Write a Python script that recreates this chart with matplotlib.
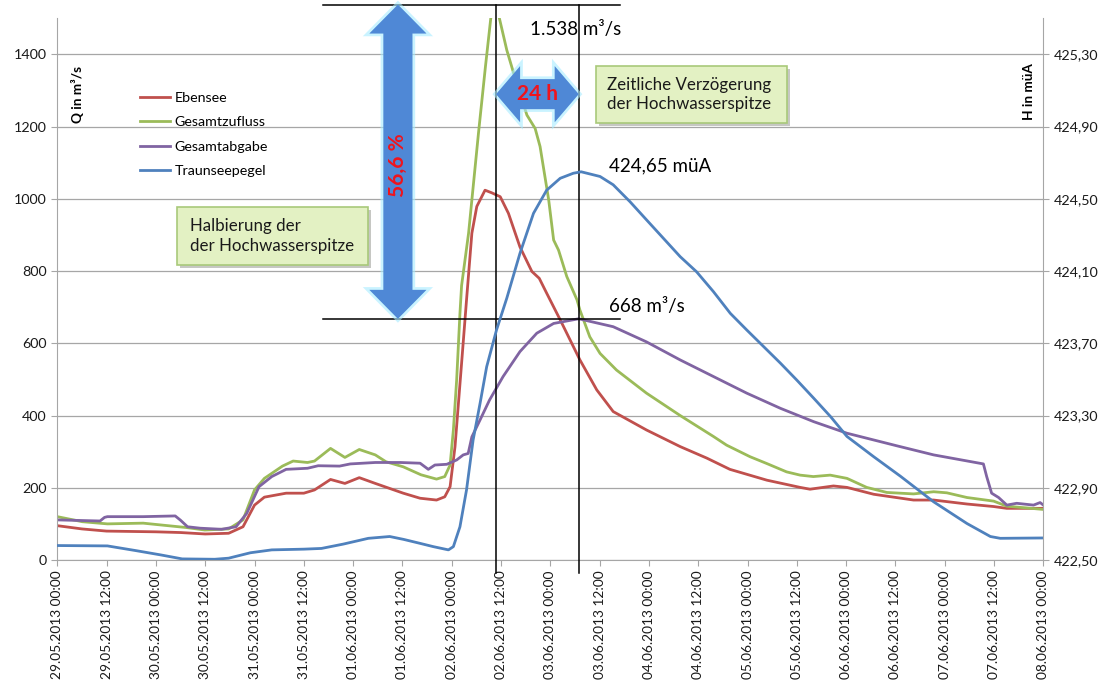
import pandas as pd
import matplotlib
matplotlib.use('Agg')
import matplotlib.pyplot as plt
import matplotlib.dates as mdates
import matplotlib.patheffects as pe
import matplotlib.transforms as mtransforms
from matplotlib.patches import Polygon, FancyBboxPatch
from matplotlib.ticker import FuncFormatter

plt.rcParams['font.family'] = ['Lato', 'DejaVu Sans']

start = pd.Timestamp('2013-05-29 00:00')
end = pd.Timestamp('2013-06-08 00:00')

# Stunden ab 29.05.2013 00:00, Abfluss in m³/s
ebensee_h = [0, 6, 12, 24, 30, 36, 41.7, 45.2, 48, 50.4, 55.7, 60, 62.6, 66.5, 70, 73.5, 77.4,
             84.2, 88.3, 92.3, 94.3, 95.6, 96.8, 98.4, 99.6, 100.9, 102.1, 104.1, 105.7, 107.8,
             109.8, 112.6, 115.5, 117.3, 119.1, 122.4, 127.2, 131.3, 135.3, 143.4, 151.6, 158.1,
             163.7, 172.7, 180.8, 183.2, 188.9, 192.2, 198.7, 208.4, 213.3, 221.4, 227.9, 231.1, 240]
ebensee_q = [95, 86, 80, 78, 76, 72, 74, 92, 152, 174, 185, 185, 194, 223, 212, 228, 212,
             185, 171, 166, 175, 203, 314, 545, 720, 905, 979, 1024, 1017, 1006,
             960, 867, 799, 780, 739, 665, 554, 471, 411, 360, 314, 282,
             251, 221, 201, 196, 205, 201, 182, 166, 166, 155, 148, 143, 143]

zufluss_h = [0, 6.1, 12.2, 20.9, 25.2, 31.3, 35.9, 41.7, 45.2, 48, 50.4, 54.8, 57.4, 60.9, 62.6,
             66.5, 70, 73.5, 77.4, 80, 84.2, 88.5, 92.3, 94.3, 95.6, 96.4, 97.2, 98, 98.4, 100.1,
             102.5, 104.2, 105.5, 106.6, 107.6, 109.4, 111.8, 114.3, 116.3, 117.5, 119.6, 120.8,
             122, 124, 126.5, 127.2, 129.6, 132.1, 136.1, 143.4, 151.6, 159.7, 162.9, 168.6, 172.7,
             177.5, 180.8, 184, 188.1, 192.2, 197, 201.9, 208.4, 213.3, 216.5, 221.4, 227.9, 231.1,
             240]
zufluss_q = [120, 106, 100, 102, 97, 90, 83, 86, 111, 194, 226, 260, 274, 270, 274,
             309, 284, 306, 291, 272, 258, 236, 224, 231, 263, 360, 499, 683, 760, 905,
             1181, 1366, 1500, 1538, 1500, 1412, 1320, 1232, 1195, 1145, 997, 886,
             858, 785, 720, 692, 618, 572, 526, 462, 400, 342, 318, 286, 267,
             244, 235, 231, 235, 226, 201, 187, 183, 189, 186, 173, 163, 149,
             140]

abgabe_h = [0, 10.4, 11.5, 12.2, 20.9, 28.7, 30, 31.7, 34.8, 40, 43.5, 46.1, 49.1, 52.2, 55.7,
            60.9, 63.5, 68.7, 71.3, 77.4, 83.5, 88.3, 90.3, 91.9, 94.8, 97.2, 98.8, 100, 100.9,
            102.9, 105.2, 108.5, 112.6, 116.7, 120.8, 126.9, 135.3, 143.4, 151.6, 159.7, 167.8,
            176, 184.1, 192.2, 204.4, 213.3, 225.4, 226.2, 227.4, 229.1, 231.1, 233.5, 237.6,
            239.2, 240]
abgabe_q = [111, 108, 118, 120, 120, 122, 110, 92, 88, 85, 92, 129, 203, 231, 251,
            254, 261, 260, 266, 270, 270, 268, 251, 263, 265, 277, 291, 295, 341,
            388, 443, 508, 577, 628, 655, 668, 646, 604, 554, 508, 462,
            420, 383, 351, 316, 291, 266, 231, 185, 173, 152, 157, 152,
            159, 152]

# Seepegel in m ü. A.
pegel_h = [0, 12.2, 19.1, 25.2, 30.4, 38.3, 41.7, 47, 52.2, 60, 64.3, 69.6, 75.7, 80.9, 84.3,
           88.3, 91.5, 95.2, 96.4, 98, 99.6, 101.2, 102.9, 104.5, 106.9, 109.4, 112.6, 115.9,
           119.1, 122.4, 125.6, 127.5, 132.1, 135.3, 139.4, 143.4, 147.5, 151.6, 155.6, 159.7,
           163.8, 167.8, 171.9, 176, 180, 184.1, 188.2, 192.2, 198.7, 205.2, 213.3, 221.4, 227.1,
           229.5, 240]
pegel_m = [422.58, 422.578, 422.552, 422.528, 422.506, 422.504, 422.51, 422.54, 422.556, 422.56,
           422.564, 422.588, 422.62, 422.63, 422.614, 422.592, 422.574, 422.556, 422.574, 422.684,
           422.888, 423.164, 423.368, 423.57, 423.774, 423.95, 424.198, 424.42, 424.548, 424.614,
           424.642, 424.65, 424.624, 424.578, 424.484, 424.384, 424.282, 424.18, 424.096, 423.986,
           423.866, 423.774, 423.682, 423.59, 423.496, 423.396, 423.294, 423.184, 423.072, 422.964,
           422.822, 422.702, 422.63, 422.62, 422.622]

peak_in = 1538
peak_out = 668
peak_level = 424.65
lag_from_h = 106.8
lag_to_h = 126.9
halving_h = 82.9
marker_span_h = (64.7, 136.9)


def to_time(hours):
    return start + pd.to_timedelta(hours, unit='h')


fig = plt.figure(figsize=(11.04, 6.81), dpi=100)
ax = fig.add_axes([0.0519, 0.1777, 0.8932, 0.7954])
ax2 = ax.twinx()

lw = 2.0
l1, = ax.plot(to_time(ebensee_h), ebensee_q, color='#c0504d', lw=lw, label='Ebensee')
l2, = ax.plot(to_time(zufluss_h), zufluss_q, color='#9bbb59', lw=lw, label='Gesamtzufluss')
l3, = ax.plot(to_time(abgabe_h), abgabe_q, color='#8064a2', lw=lw, label='Gesamtabgabe')
l4, = ax2.plot(to_time(pegel_h), pegel_m, color='#4f81bd', lw=lw, label='Traunseepegel')

ax.set_xlim(start, end)
ax.set_ylim(0, 1500)
ax2.set_ylim(422.5, 425.5)

ax.set_yticks(range(0, 1401, 200))
ax2.set_yticks([422.5 + 0.4 * i for i in range(8)])
ax2.yaxis.set_major_formatter(FuncFormatter(lambda v, p: f'{v:.2f}'.replace('.', ',')))

ax.xaxis.set_major_locator(mdates.HourLocator(byhour=[0, 12]))
ax.xaxis.set_major_formatter(mdates.DateFormatter('%d.%m.%Y %H:%M'))
for lab in ax.get_xticklabels():
    lab.set_rotation(90)

grid_col = '#a6a6a6'
ax.yaxis.grid(True, color=grid_col, lw=0.9)
ax.set_axisbelow(True)
for a in (ax, ax2):
    a.spines['top'].set_visible(False)
    for s in ('left', 'right', 'bottom'):
        a.spines[s].set_color(grid_col)
ax.spines['right'].set_visible(False)
ax2.spines['left'].set_visible(False)
ax2.spines['bottom'].set_visible(False)

ax.tick_params(axis='y', colors=grid_col, labelcolor='#1a1a1a', labelsize=10.3, length=4)
ax.tick_params(axis='x', colors=grid_col, labelcolor='#1a1a1a', labelsize=9.9, length=4)
ax2.tick_params(axis='y', colors=grid_col, labelcolor='#1a1a1a', labelsize=10.3, length=4)

# Achsentitel innerhalb der Zeichenfläche
ax.text(0.0205, 0.86, 'Q in m³/s', transform=ax.transAxes, rotation=90, ha='center', va='center',
        fontsize=9.8, fontweight='bold')
ax.text(0.9855, 0.864, 'H in müA', transform=ax.transAxes, rotation=90, ha='center', va='center',
        fontsize=9.8, fontweight='bold')

ax2.legend([l1, l2, l3, l4], [l.get_label() for l in (l1, l2, l3, l4)], loc='upper left',
           bbox_to_anchor=(0.0839, 0.8636), frameon=False, fontsize=10.3, handlelength=2.1,
           handletextpad=0.3, labelspacing=0.85, borderpad=0, borderaxespad=0)

# Markierungslinien für Spitzen und Verzögerung
t0, t1 = to_time(list(marker_span_h))
ax.plot([t0, t1], [peak_in, peak_in], color='k', lw=1.1, clip_on=False, zorder=6)
ax.plot([t0, t1], [peak_out, peak_out], color='k', lw=1.1, clip_on=False, zorder=6)
for h in (lag_from_h, lag_to_h):
    t = to_time([h])[0]
    ax.plot([t, t], [-36, peak_in], color='k', lw=1.1, clip_on=False, zorder=6)

trans = mtransforms.blended_transform_factory(ax.transAxes, ax.transData)
arrow_col = '#4f88d6'
glow = [pe.withStroke(linewidth=4, foreground='#a8ecff', alpha=0.6)]

# senkrechter Doppelpfeil (Halbierung)
xc = halving_h / 240
hw, sw, hl = 0.0578 / 2, 0.0294 / 2, 80
y0, y1 = peak_out, peak_in
vert = [(xc, y1), (xc + hw, y1 - hl), (xc + sw, y1 - hl), (xc + sw, y0 + hl), (xc + hw, y0 + hl),
        (xc, y0), (xc - hw, y0 + hl), (xc - sw, y0 + hl), (xc - sw, y1 - hl), (xc - hw, y1 - hl)]
ax.add_patch(Polygon(vert, closed=True, transform=trans, facecolor=arrow_col, edgecolor='none',
                     clip_on=False, zorder=7, path_effects=glow))
ax.text(xc, (y0 + y1) / 2 - 9, '56,6 %', transform=trans, rotation=90, ha='center', va='center',
        color='#f0141c', fontsize=15, fontweight='bold', zorder=8)

# waagrechter Doppelpfeil (Verzögerung)
xa, xb = lag_from_h / 240, lag_to_h / 240
yc, hh, sh, hx = 1290, 155 / 2, 83 / 2, 0.0243
horiz = [(xa, yc), (xa + hx, yc + hh), (xa + hx, yc + sh), (xb - hx, yc + sh), (xb - hx, yc + hh),
         (xb, yc), (xb - hx, yc - hh), (xb - hx, yc - sh), (xa + hx, yc - sh), (xa + hx, yc - hh)]
ax.add_patch(Polygon(horiz, closed=True, transform=trans, facecolor=arrow_col, edgecolor='none',
                     clip_on=False, zorder=7, path_effects=glow))
ax.text((xa + xb) / 2, yc, '24 h', transform=trans, ha='center', va='center',
        color='#f0141c', fontsize=15, fontweight='bold', zorder=8)

# Textfelder
shadow = [pe.SimplePatchShadow(offset=(2, -2), alpha=0.3), pe.Normal()]
for (bx, by, bw, bh), txt, tx in [((0.1214, 0.5446, 0.1936, 0.1071),
                                   'Halbierung der\nder Hochwasserspitze', 0.1346),
                                  ((0.5463, 0.8067, 0.1937, 0.1053),
                                   'Zeitliche Verzögerung\nder Hochwasserspitze', 0.5575)]:
    box = FancyBboxPatch((bx, by), bw, bh, boxstyle='square,pad=0', transform=ax.transAxes,
                         facecolor='#e3f1c3', edgecolor='#a9c97a', lw=1.2, zorder=7,
                         path_effects=shadow)
    ax.add_patch(box)
    ax.text(tx, by + bh / 2, txt, transform=ax.transAxes, ha='left', va='center', fontsize=12.2,
            linespacing=1.25, color='#1a1a1a', zorder=8)

# Wertbeschriftungen
ax.text(to_time([115.1])[0], 1468, f'{peak_in / 1000:.3f} m³/s', ha='left', va='center',
        fontsize=13.5, zorder=8)
ax.text(to_time([134.3])[0], 1091, f'{peak_level:.2f} müA'.replace('.', ','), ha='left',
        va='center', fontsize=13.5, zorder=8)
ax.text(to_time([134.3])[0], 703, f'{peak_out} m³/s', ha='left', va='center', fontsize=13.5,
        zorder=8)

fig.savefig('out.png', dpi=100)
